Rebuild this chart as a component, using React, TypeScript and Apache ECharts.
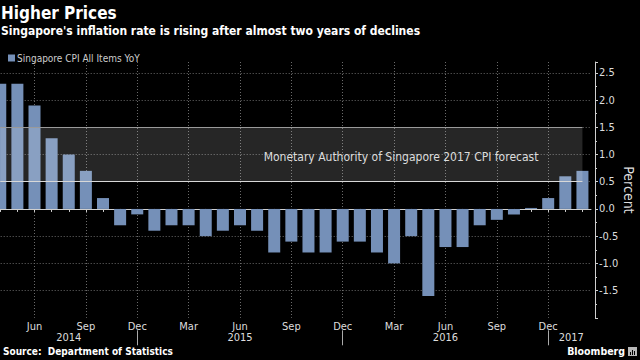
import React, { useEffect, useRef } from 'react';
import * as echarts from 'echarts';

const months: string[] = [
  'Apr 2014', 'May 2014', 'Jun 2014', 'Jul 2014', 'Aug 2014', 'Sep 2014', 'Oct 2014', 'Nov 2014', 'Dec 2014',
  'Jan 2015', 'Feb 2015', 'Mar 2015', 'Apr 2015', 'May 2015', 'Jun 2015', 'Jul 2015', 'Aug 2015', 'Sep 2015', 'Oct 2015', 'Nov 2015', 'Dec 2015',
  'Jan 2016', 'Feb 2016', 'Mar 2016', 'Apr 2016', 'May 2016', 'Jun 2016', 'Jul 2016', 'Aug 2016', 'Sep 2016', 'Oct 2016', 'Nov 2016', 'Dec 2016',
  'Jan 2017', 'Feb 2017',
];

const cpiYoY: number[] = [
  2.3, 2.3, 1.9, 1.3, 1.0, 0.7, 0.2, -0.3, -0.1,
  -0.4, -0.3, -0.3, -0.5, -0.4, -0.3, -0.4, -0.8, -0.6, -0.8, -0.8, -0.6,
  -0.6, -0.8, -1.0, -0.5, -1.6, -0.7, -0.7, -0.3, -0.2, -0.1, 0.0, 0.2,
  0.6, 0.7,
];

const forecastLow = 0.5;
const forecastHigh = 1.5;
const forecastLabel = 'Monetary Authority of Singapore 2017 CPI forecast';
const seriesName = 'Singapore CPI All Items YoY';
const yTickLabels: number[] = [-1.5, -1.0, -0.5, 0.0, 0.5, 1.0, 1.5, 2.0, 2.5];

const FONT = '"DejaVu Sans Condensed", "DejaVu Sans", sans-serif';

export default function App() {
  const ref = useRef<HTMLDivElement>(null);

  useEffect(() => {
    if (!ref.current) return;
    const chart = echarts.init(ref.current, undefined, { renderer: 'svg' });

    const decIdx = months.map((m, i) => (m.startsWith('Dec') ? i : -1)).filter((i) => i >= 0);
    const bounds = [0, ...decIdx, months.length - 1 + 0.7];
    const yearMid: { idx: number; frac: number; year: string }[] = [];
    for (let k = 0; k < bounds.length - 1; k++) {
      const mid = (bounds[k] + bounds[k + 1]) / 2;
      const idx = Math.floor(mid);
      const start = k === 0 ? 0 : decIdx[k - 1] + 1;
      yearMid.push({ idx, frac: mid - idx, year: months[Math.min(start, months.length - 1)].split(' ')[1] });
    }

    const rich: Record<string, any> = {};
    yearMid.forEach((y, k) => {
      rich['y' + k] = {
        color: '#ddd',
        fontSize: 11,
        fontFamily: FONT,
        padding: [0, 0, 0, Math.round(y.frac * 17.1 * 2)],
      };
    });

    const gridLine = { color: '#6a6a6a', type: [1, 2], width: 1 };

    const option: any = {
      animation: false,
      backgroundColor: '#000',
      textStyle: { fontFamily: FONT },
      legend: {
        data: [seriesName],
        left: 3,
        top: 48,
        icon: 'rect',
        itemWidth: 7,
        itemHeight: 7,
        itemGap: 4,
        textStyle: { color: '#ccc', fontSize: 10, fontFamily: FONT, padding: [0, 0, 0, -3] },
        selectedMode: false,
      },
      grid: { left: -8.3, right: 49, top: 62, bottom: 42.2, containLabel: false, outerBoundsMode: 'none' },
      xAxis: [
        {
          type: 'category',
          data: months,
          position: 'bottom',
          axisLine: { show: true, lineStyle: { color: '#cfcfcf', width: 1 } },
          axisTick: { show: true, alignWithLabel: true, interval: 0, length: 3, lineStyle: { color: '#cfcfcf' } },
          axisLabel: {
            interval: (i: number) => i % 3 === 2,
            formatter: (v: string) => v.split(' ')[0],
            color: '#ddd',
            fontSize: 11,
            fontFamily: FONT,
            margin: 3,
          },
          splitLine: {
            show: true,
            interval: (i: number) => i % 3 === 2,
            alignWithLabel: true,
            lineStyle: gridLine,
          },
        },
        {
          type: 'category',
          data: months,
          position: 'bottom',
          offset: 12.5,
          axisLine: { show: false },
          axisTick: {
            show: true,
            alignWithLabel: true,
            interval: (i: number) => decIdx.includes(i),
            length: 15,
            lineStyle: { color: '#aaa' },
          },
          axisLabel: {
            interval: (i: number) => yearMid.some((y) => y.idx === i),
            formatter: (_v: string, i: number) => {
              const k = yearMid.findIndex((y) => y.idx === i);
              return k >= 0 ? `{y${k}|${yearMid[k].year}}` : '';
            },
            rich,
            color: '#ddd',
            fontSize: 11,
            fontFamily: FONT,
            margin: 2,
          },
          splitLine: { show: false },
        },
      ],
      yAxis: {
        type: 'value',
        position: 'right',
        offset: 4,
        min: -2,
        max: 2.7,
        interval: 0.5,
        name: 'Percent',
        nameLocation: 'middle',
        nameRotate: -90,
        nameGap: 27,
        nameMoveOverlap: false,
        nameTextStyle: { color: '#ddd', fontSize: 14, fontFamily: FONT },
        axisLine: { show: true, lineStyle: { color: '#cfcfcf' } },
        axisTick: { show: true, length: 3, lineStyle: { color: '#cfcfcf' } },
        minorTick: { show: true, splitNumber: 2, length: 2, lineStyle: { color: '#cfcfcf' } },
        axisLabel: {
          color: '#ddd',
          fontSize: 11,
          fontFamily: FONT,
          margin: 4,
          formatter: (v: number) => (yTickLabels.some((t) => Math.abs(t - v) < 1e-6) ? v.toFixed(1) : ''),
        },
        splitLine: {
          show: true,
          showMinLine: false,
          showMaxLine: false,
          lineStyle: gridLine,
        },
      },
      series: [
        {
          name: seriesName,
          type: 'bar',
          data: cpiYoY,
          barWidth: 12,
          barMinHeight: 1,
          itemStyle: { color: '#7590b8' },
          z: 2,
        },
        {
          name: 'forecast',
          type: 'line',
          data: [],
          markArea: {
            silent: true,
            z: 3,
            itemStyle: { color: 'rgba(255,255,255,0.15)', borderWidth: 0 },
            label: {
              show: true,
              position: 'insideRight',
              distance: 44,
              offset: [0, 2],
              color: '#ddd',
              fontSize: 12,
              fontFamily: FONT,
            },
            data: [
              [
                { name: forecastLabel, xAxis: months[0], yAxis: forecastHigh },
                { xAxis: months[months.length - 1], yAxis: forecastLow },
              ],
            ],
          },
          markLine: {
            silent: true,
            symbol: 'none',
            label: { show: false },
            z: 4,
            data: [
              [
                { coord: [months[0], forecastHigh], lineStyle: { color: '#9a9a9a', width: 1, type: 'solid' } },
                { coord: [months[months.length - 1], forecastHigh] },
              ],
              [
                { coord: [months[0], forecastLow], lineStyle: { color: '#d8d8d8', width: 1, type: 'solid' } },
                { coord: [months[months.length - 1], forecastLow] },
              ],
            ],
          },
        },
      ],
      graphic: [
        {
          type: 'text',
          left: 1,
          top: 4,
          style: { text: 'Higher Prices', fill: '#fff', font: `bold 17px ${FONT}` },
        },
        {
          type: 'text',
          left: 1,
          top: 25,
          style: { text: "Singapore's inflation rate is rising after almost two years of declines", fill: '#fff', font: `bold 12px ${FONT}` },
        },
        {
          type: 'text',
          left: 3,
          top: 346,
          style: { text: 'Source:  Department of Statistics', fill: '#fff', font: `bold 10px ${FONT}` },
        },
        {
          type: 'text',
          right: 15,
          top: 345,
          style: { text: 'Bloomberg', fill: '#fff', font: `bold 10.5px ${FONT}` },
        },
        {
          type: 'group',
          right: 3,
          top: 347,
          children: [
            { type: 'rect', shape: { x: 0, y: 0, width: 9, height: 9 }, style: { fill: '#b8b8b8' } },
            { type: 'rect', shape: { x: 2, y: 5, width: 1, height: 3 }, style: { fill: '#000' } },
            { type: 'rect', shape: { x: 4, y: 3, width: 1, height: 5 }, style: { fill: '#000' } },
            { type: 'rect', shape: { x: 6, y: 4, width: 1, height: 4 }, style: { fill: '#000' } },
          ],
        },
      ],
    };

    chart.setOption(option);
    return () => chart.dispose();
  }, []);

  return (
    <div
      ref={ref}
      style={{ position: 'fixed', left: 0, top: 0, width: 640, height: 360, background: '#000' }}
    />
  );
}
